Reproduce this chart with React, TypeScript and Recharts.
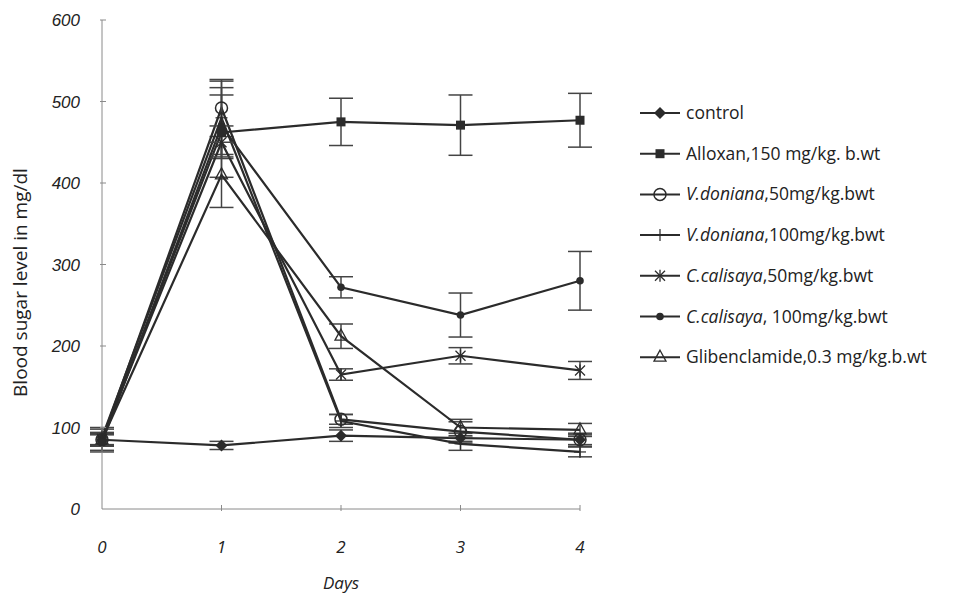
import React from 'react';
import { LineChart, Line, XAxis, YAxis, ErrorBar } from 'recharts';

// days on the x axis
const days = [0, 1, 2, 3, 4];
const yTicks = [0, 100, 200, 300, 400, 500, 600];

// mean blood sugar (mg/dl) and error per group
const control = [85, 78, 90, 87, 85];
const controlErr = [6, 5, 7, 6, 6];
const alloxan = [85, 462, 475, 471, 477];
const alloxanErr = [8, 55, 29, 37, 33];
const vd50 = [85, 492, 110, 95, 85];
const vd50Err = [8, 35, 6, 12, 8];
const vd100 = [88, 480, 108, 80, 70];
const vd100Err = [10, 45, 8, 8, 6];
const cc50 = [86, 450, 165, 188, 170];
const cc50Err = [8, 20, 7, 10, 11];
const cc100 = [82, 470, 272, 238, 280];
const cc100Err = [10, 38, 13, 27, 36];
const glib = [85, 410, 212, 100, 97];
const glibErr = [15, 40, 15, 10, 8];

const INK = '#2b2b2b';
const AXIS = '#8a8a8a';
const LABEL_FONT = "'Open Sans', sans-serif";

type Marker = 'diamond' | 'square' | 'circle' | 'plus' | 'star' | 'dot' | 'triangle';

const series: { key: string; species?: string; rest: string; values: number[]; err: number[]; marker: Marker }[] = [
  { key: 'control', rest: 'control', values: control, err: controlErr, marker: 'diamond' },
  { key: 'alloxan', rest: 'Alloxan,150 mg/kg. b.wt', values: alloxan, err: alloxanErr, marker: 'square' },
  { key: 'vd50', species: 'V.doniana', rest: ',50mg/kg.bwt', values: vd50, err: vd50Err, marker: 'circle' },
  { key: 'vd100', species: 'V.doniana', rest: ',100mg/kg.bwt', values: vd100, err: vd100Err, marker: 'plus' },
  { key: 'cc50', species: 'C.calisaya', rest: ',50mg/kg.bwt', values: cc50, err: cc50Err, marker: 'star' },
  { key: 'cc100', species: 'C.calisaya', rest: ', 100mg/kg.bwt', values: cc100, err: cc100Err, marker: 'dot' },
  { key: 'glib', rest: 'Glibenclamide,0.3 mg/kg.b.wt', values: glib, err: glibErr, marker: 'triangle' },
];

const data = days.map((d, i) => {
  const row: Record<string, number> = { day: d };
  series.forEach((s) => {
    row[s.key] = s.values[i];
    row[s.key + 'Err'] = s.err[i];
  });
  return row;
});

const MarkerShape = ({ type, cx, cy }: { type: Marker; cx: number; cy: number }) => {
  switch (type) {
    case 'diamond':
      return <polygon points={`${cx},${cy - 6} ${cx + 6},${cy} ${cx},${cy + 6} ${cx - 6},${cy}`} fill={INK} />;
    case 'square':
      return <rect x={cx - 4.5} y={cy - 4.5} width={9} height={9} fill={INK} />;
    case 'circle':
      return <circle cx={cx} cy={cy} r={6} fill="none" stroke={INK} strokeWidth={1.5} />;
    case 'plus':
      return (
        <g stroke={INK} strokeWidth={1.2}>
          <line x1={cx - 6} y1={cy} x2={cx + 6} y2={cy} />
          <line x1={cx} y1={cy - 6} x2={cx} y2={cy + 6} />
        </g>
      );
    case 'star':
      return (
        <g stroke={INK} strokeWidth={1.3}>
          <line x1={cx - 5} y1={cy - 5} x2={cx + 5} y2={cy + 5} />
          <line x1={cx - 5} y1={cy + 5} x2={cx + 5} y2={cy - 5} />
          <line x1={cx} y1={cy - 6} x2={cx} y2={cy + 6} />
        </g>
      );
    case 'dot':
      return <circle cx={cx} cy={cy} r={3.8} fill={INK} />;
    case 'triangle':
      return <polygon points={`${cx},${cy - 7} ${cx + 6},${cy + 4} ${cx - 6},${cy + 4}`} fill="none" stroke={INK} strokeWidth={1.3} />;
  }
  return null;
};

const XTick = (props: any) => {
  const { x, y, payload } = props;
  return (
    <g>
      {payload.value !== 0 && <line x1={x} y1={y} x2={x} y2={y - 6} stroke={AXIS} />}
      <text x={x} y={y + 42} textAnchor="middle" fontFamily={LABEL_FONT} fontStyle="italic" fontSize={17} fill="#222">
        {payload.value}
      </text>
    </g>
  );
};

const YTick = (props: any) => {
  const { x, y, payload } = props;
  return (
    <g>
      {payload.value !== 0 && <line x1={x} y1={y} x2={x + 6} y2={y} stroke={AXIS} />}
      <text x={x - 20} y={y + 6} textAnchor="end" fontFamily="'Liberation Sans', Arial, sans-serif" fontStyle="italic" fontSize={17} fill="#222">
        {payload.value}
      </text>
    </g>
  );
};

// rotated y axis title, a bit below the plot centre as in the original
const YTitle = (props: any) => {
  const { viewBox } = props;
  const cx = 20;
  const cy = viewBox.y + viewBox.height / 2 + 18;
  return (
    <text
      x={cx}
      y={cy}
      transform={`rotate(-90, ${cx}, ${cy})`}
      textAnchor="middle"
      dominantBaseline="central"
      fontFamily={LABEL_FONT}
      fontSize={19}
      fill="#222"
    >
      Blood sugar level in mg/dl
    </text>
  );
};

const LegendBox = () => (
  <svg width={316} height={300} style={{ position: 'absolute', left: 640, top: 93 }}>
    {series.map((s, i) => {
      const y = 20 + i * 40.7;
      return (
        <g key={s.key}>
          <line x1={0} y1={y} x2={40} y2={y} stroke={INK} strokeWidth={2} />
          <MarkerShape type={s.marker} cx={20} cy={y} />
          <text x={46} y={y + 6} fontFamily={LABEL_FONT} fontSize={17.5} fill="#222">
            {s.species && <tspan fontStyle="italic">{s.species}</tspan>}
            <tspan>{s.rest}</tspan>
          </text>
        </g>
      );
    })}
  </svg>
);

export default function App() {
  return (
    <div style={{ position: 'absolute', left: 0, top: 0, width: 956, height: 595, background: '#fff' }}>
      <LineChart width={956} height={595} data={data} margin={{ top: 20, right: 376, left: 0, bottom: 0 }}>
        <XAxis
          dataKey="day"
          type="number"
          domain={[0, 4]}
          ticks={days}
          height={86}
          stroke={AXIS}
          tickLine={false}
          tickSize={0}
          tick={<XTick />}
          label={{ value: 'Days', position: 'insideBottom', offset: 6, fontFamily: LABEL_FONT, fontStyle: 'italic', fontSize: 17, fill: '#222' }}
        />
        <YAxis
          domain={[0, 600]}
          ticks={yTicks}
          width={102}
          stroke={AXIS}
          tickLine={false}
          tickSize={0}
          tick={<YTick />}
          label={<YTitle />}
        />
        {series.map((s) => (
          <Line
            key={s.key}
            dataKey={s.key}
            stroke={INK}
            strokeWidth={2.2}
            isAnimationActive={false}
            dot={(p: any) => <MarkerShape key={`${s.key}-${p.index}`} type={s.marker} cx={p.cx} cy={p.cy} />}
            activeDot={false}
          >
            <ErrorBar dataKey={s.key + 'Err'} direction="y" width={12} stroke="#444" strokeWidth={1.5} />
          </Line>
        ))}
      </LineChart>
      <LegendBox />
    </div>
  );
}
